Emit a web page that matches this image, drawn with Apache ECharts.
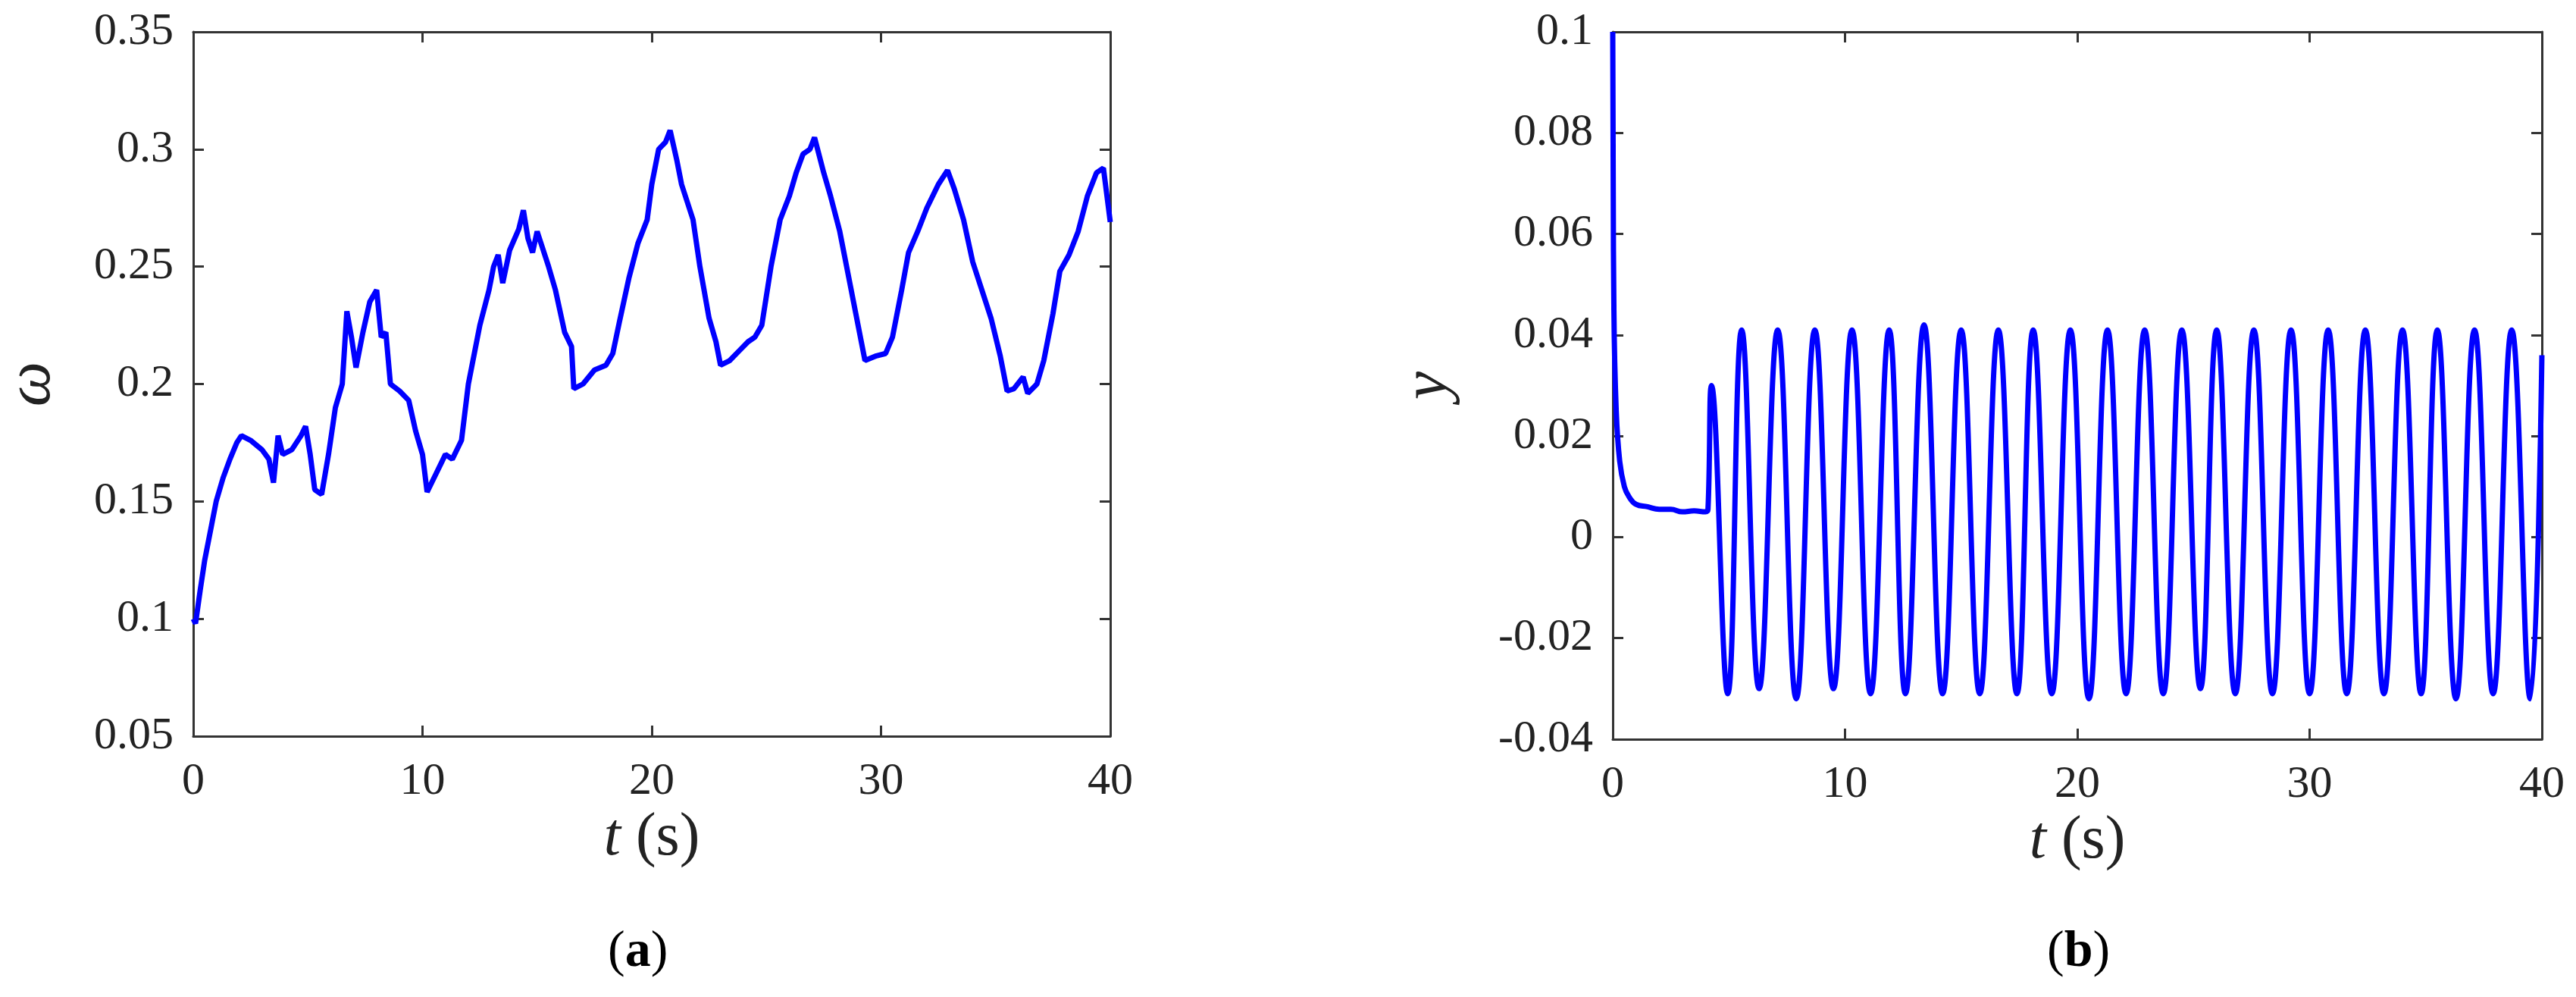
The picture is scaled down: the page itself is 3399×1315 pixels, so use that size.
<!DOCTYPE html>
<html>
<head>
<meta charset="utf-8">
<script src="https://cdn.jsdelivr.net/npm/echarts@6/dist/echarts.min.js"></script>
<style>
html, body { margin: 0; padding: 0; background: #fff; }
#main { width: 3399px; height: 1315px; }
</style>
</head>
<body>
<div id="main"></div>
<script>
// (a) omega over time
const omegaT = [0, 0.1, 0.3, 0.5, 0.8, 1.0, 1.3, 1.6, 1.9, 2.1, 2.5, 3.0, 3.3, 3.5, 3.7, 3.9, 4.3, 4.7, 4.9, 5.1, 5.3, 5.6, 5.9, 6.2, 6.5, 6.7, 6.9, 7.1, 7.4, 7.7, 8.0, 8.2, 8.4, 8.6, 9.0, 9.4, 9.7, 10.0, 10.2, 10.6, 11.0, 11.3, 11.7, 12.0, 12.5, 12.9, 13.1, 13.3, 13.5, 13.8, 14.2, 14.4, 14.6, 14.8, 15.0, 15.5, 15.8, 16.2, 16.5, 16.6, 17.0, 17.5, 18.0, 18.3, 18.6, 19.0, 19.4, 19.8, 20.0, 20.3, 20.6, 20.8, 21.1, 21.3, 21.8, 22.1, 22.5, 22.8, 23.0, 23.4, 23.8, 24.2, 24.5, 24.8, 25.2, 25.6, 26.0, 26.3, 26.6, 26.9, 27.1, 27.5, 27.8, 28.2, 28.6, 29.0, 29.3, 29.8, 30.2, 30.5, 30.9, 31.2, 31.6, 32.0, 32.5, 32.9, 33.2, 33.6, 34.0, 34.4, 34.8, 35.2, 35.5, 35.8, 36.2, 36.4, 36.8, 37.1, 37.5, 37.8, 38.2, 38.6, 39.0, 39.4, 39.7, 40];
const omegaV = [0.100, 0.098, 0.112, 0.125, 0.140, 0.150, 0.160, 0.168, 0.175, 0.178, 0.176, 0.172, 0.168, 0.158, 0.178, 0.170, 0.172, 0.178, 0.182, 0.170, 0.155, 0.153, 0.170, 0.190, 0.200, 0.231, 0.220, 0.207, 0.222, 0.235, 0.240, 0.220, 0.222, 0.200, 0.197, 0.193, 0.180, 0.170, 0.154, 0.162, 0.170, 0.168, 0.176, 0.200, 0.225, 0.240, 0.250, 0.255, 0.243, 0.257, 0.266, 0.274, 0.262, 0.256, 0.265, 0.250, 0.240, 0.222, 0.216, 0.198, 0.200, 0.206, 0.208, 0.213, 0.227, 0.245, 0.260, 0.270, 0.285, 0.300, 0.303, 0.308, 0.295, 0.285, 0.270, 0.250, 0.228, 0.218, 0.208, 0.210, 0.214, 0.218, 0.220, 0.225, 0.250, 0.270, 0.280, 0.290, 0.298, 0.300, 0.305, 0.290, 0.280, 0.265, 0.245, 0.225, 0.210, 0.212, 0.213, 0.220, 0.240, 0.256, 0.265, 0.275, 0.285, 0.291, 0.283, 0.270, 0.252, 0.240, 0.228, 0.212, 0.197, 0.198, 0.203, 0.196, 0.200, 0.210, 0.230, 0.248, 0.255, 0.265, 0.280, 0.290, 0.292, 0.269];

// (b) y over time: initial decay, then oscillation peaks/troughs
const yT = [0, 0.05, 0.15, 0.3, 0.5, 0.7, 1.0, 1.5, 2.0, 2.5, 3.0, 3.5, 4.0, 4.1, 4.25, 4.95, 5.55, 6.3, 7.1, 7.9, 8.7, 9.5, 10.3, 11.1, 11.9, 12.6, 13.4, 14.2, 15.0, 15.8, 16.6, 17.4, 18.1, 18.9, 19.7, 20.5, 21.3, 22.1, 22.9, 23.7, 24.5, 25.3, 26.0, 26.8, 27.6, 28.4, 29.2, 30.0, 30.8, 31.6, 32.4, 33.2, 34.0, 34.8, 35.5, 36.3, 37.1, 37.9, 38.7, 39.5, 40];
const yV = [0.100, 0.045, 0.025, 0.015, 0.010, 0.008, 0.0065, 0.006, 0.0055, 0.0055, 0.005, 0.0052, 0.005, 0.0055, 0.030, -0.031, 0.041, -0.030, 0.041, -0.032, 0.041, -0.030, 0.041, -0.031, 0.041, -0.031, 0.042, -0.031, 0.041, -0.031, 0.041, -0.031, 0.041, -0.031, 0.041, -0.032, 0.041, -0.031, 0.041, -0.031, 0.041, -0.030, 0.041, -0.031, 0.041, -0.031, 0.041, -0.031, 0.041, -0.031, 0.041, -0.031, 0.041, -0.031, 0.041, -0.032, 0.041, -0.031, 0.041, -0.032, 0.036];

const chart = echarts.init(document.getElementById('main'));
const FONT = '"Times New Roman", "Liberation Serif", "DejaVu Serif", serif';
const TXT = '#222';

function xAxes(gi) {
  return [{
    type: 'value', gridIndex: gi, min: 0, max: 40, interval: 10,
    name: '{i|t} (s)', nameLocation: 'middle', nameGap: 92,
    nameTextStyle: { fontFamily: FONT, fontSize: 80, color: TXT, rich: { i: { fontStyle: 'italic', fontFamily: FONT, fontSize: 80, color: TXT } } },
    axisLine: { onZero: false, lineStyle: { color: '#333', width: 3 } },
    axisTick: { inside: true, length: 14, lineStyle: { color: '#333', width: 3 } },
    axisLabel: { fontFamily: FONT, fontSize: 60, color: TXT, margin: 30 },
    splitLine: { show: false }
  }, {
    type: 'value', gridIndex: gi, position: 'top', min: 0, max: 40, interval: 10,
    axisLine: { onZero: false, lineStyle: { color: '#333', width: 3 } },
    axisTick: { inside: true, length: 14, lineStyle: { color: '#333', width: 3 } },
    axisLabel: { show: false }, splitLine: { show: false }
  }];
}

function yAxes(gi, min, max, step, name, gap, fmt) {
  return [{
    type: 'value', gridIndex: gi, min: min, max: max, interval: step,
    name: name, nameLocation: 'middle', nameGap: gap, nameRotate: 90,
    nameTextStyle: { fontFamily: FONT, fontStyle: 'italic', fontSize: 84, color: TXT },
    axisLine: { onZero: false, lineStyle: { color: '#333', width: 3 } },
    axisTick: { inside: true, length: 14, lineStyle: { color: '#333', width: 3 } },
    axisLabel: { fontFamily: FONT, fontSize: 60, color: TXT, margin: 26, formatter: fmt },
    splitLine: { show: false }
  }, {
    type: 'value', gridIndex: gi, position: 'right', min: min, max: max, interval: step,
    axisLine: { onZero: false, lineStyle: { color: '#333', width: 3 } },
    axisTick: { inside: true, length: 14, lineStyle: { color: '#333', width: 3 } },
    axisLabel: { show: false }, splitLine: { show: false }
  }];
}

// 去掉多余的0
const trim = v => String(parseFloat(v.toFixed(3)));

const option = {
  backgroundColor: '#fff',
  animation: false,
  grid: [
    { left: 219, top: 42, width: 1246, height: 929 },
    { left: 2128, top: 42, width: 1226, height: 933 }
  ],
  xAxis: xAxes(0).concat(xAxes(1)),
  yAxis: yAxes(0, 0.05, 0.35, 0.05, 'ω', 170, trim).concat(yAxes(1, -0.04, 0.1, 0.02, 'y', 200, trim)),
  series: [{
    type: 'line', xAxisIndex: 0, yAxisIndex: 0, showSymbol: false,
    data: omegaT.map((t, i) => [t, omegaV[i]]),
    lineStyle: { color: '#0000ff', width: 7 }
  }, {
    type: 'line', xAxisIndex: 2, yAxisIndex: 2, showSymbol: false, smooth: 0.45,
    data: yT.map((t, i) => [t, yV[i]]),
    lineStyle: { color: '#0000ff', width: 7 }
  }],
  graphic: [{
    type: 'text', left: 842 - 40, top: 1222,
    style: { rich: { b: { fontFamily: FONT, fontWeight: 'bold', fontSize: 68, fill: '#000' }, n: { fontFamily: FONT, fontSize: 68, fill: '#000' } }, text: '{n|(}{b|a}{n|)}' }
  }, {
    type: 'text', left: 2741 - 40, top: 1222,
    style: { rich: { b: { fontFamily: FONT, fontWeight: 'bold', fontSize: 68, fill: '#000' }, n: { fontFamily: FONT, fontSize: 68, fill: '#000' } }, text: '{n|(}{b|b}{n|)}' }
  }]
};

chart.setOption(option);
</script>
</body>
</html>
